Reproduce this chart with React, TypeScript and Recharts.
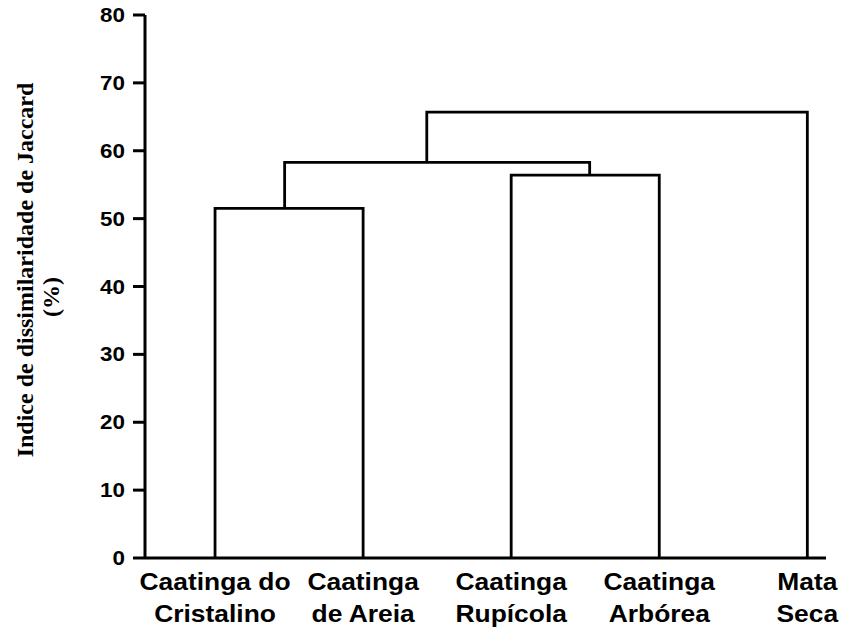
import { Line, LineChart, XAxis, YAxis } from "recharts";

// leaves of the dendrogram, left to right
const leafLine1 = ["Caatinga do", "Caatinga", "Caatinga", "Caatinga", "Mata"];
const leafLine2 = ["Cristalino", "de Areia", "Rupícola", "Arbórea", "Seca"];
const leafPos = [0, 1, 2, 3, 4];

// each merge: x of left branch, x of right branch, heights the branches start from, join height
const mergeLeftX = [0, 2, 0.47, 1.43];
const mergeRightX = [1, 3, 2.53, 4];
const mergeLeftFrom = [0, 0, 51.5, 58.3];
const mergeRightFrom = [0, 0, 56.4, 0];
const mergeHeight = [51.5, 56.4, 58.3, 65.7];

const yTicks = [0, 10, 20, 30, 40, 50, 60, 70, 80];

const links = mergeHeight.map((h, i) => [
  { x: mergeLeftX[i], y: mergeLeftFrom[i] },
  { x: mergeLeftX[i], y: h },
  { x: mergeRightX[i], y: h },
  { x: mergeRightX[i], y: mergeRightFrom[i] },
]);

const sans = "'Liberation Sans', Arial, sans-serif";
const serif = "'Liberation Serif', 'Times New Roman', serif";

// the scanned labels are a bit wider than plain Arial bold
function LeafTick(props: any) {
  const { x, y, payload } = props;
  const i = leafPos.indexOf(payload.value);
  return (
    <g transform={`translate(${x},${y}) scale(1.1,1)`}>
      <text x={0} y={32} textAnchor="middle" fontFamily={sans} fontWeight="bold" fontSize={24} fill="#000">
        {leafLine1[i]}
      </text>
      <text x={0} y={64} textAnchor="middle" fontFamily={sans} fontWeight="bold" fontSize={24} fill="#000">
        {leafLine2[i]}
      </text>
    </g>
  );
}

function ValueTick(props: any) {
  const { x, y, payload } = props;
  return (
    <g transform={`translate(${x},${y}) scale(1.12,1)`}>
      <text x={0} y={0} dy="0.355em" textAnchor="end" fontFamily={sans} fontWeight="bold" fontSize={20} fill="#000">
        {payload.value}
      </text>
    </g>
  );
}

function YTitle() {
  return (
    <g>
      <text
        transform="translate(33, 270) rotate(-90)"
        textAnchor="middle"
        fontFamily={serif}
        fontWeight="bold"
        fontSize={24}
        fill="#000"
      >
        Indice de dissimilaridade de Jaccard
      </text>
      <text
        transform="translate(59, 297) rotate(-90)"
        textAnchor="middle"
        fontFamily={serif}
        fontWeight="bold"
        fontSize={24}
        fill="#000"
      >
        (%)
      </text>
    </g>
  );
}

export default function App() {
  return (
    <div style={{ width: 843, height: 634, background: "#fff" }}>
      <style>{"body{margin:0}"}</style>
      <LineChart width={843} height={634} margin={{ top: 15, right: 17, left: 0, bottom: 0 }}>
        <XAxis
          type="number"
          dataKey="x"
          domain={[-0.473, 4.126]}
          ticks={leafPos}
          interval={0}
          allowDataOverflow
          height={76}
          tickLine={false}
          tickSize={0}
          tickMargin={0}
          axisLine={{ stroke: "#000", strokeWidth: 3 }}
          tick={<LeafTick />}
        />
        <YAxis
          type="number"
          dataKey="y"
          domain={[0, 80]}
          ticks={yTicks}
          width={145}
          tickSize={12}
          tickMargin={8}
          axisLine={{ stroke: "#000", strokeWidth: 3 }}
          tickLine={{ stroke: "#000", strokeWidth: 3 }}
          tick={<ValueTick />}
          label={{ content: () => <YTitle /> }}
        />
        {links.map((pts, i) => (
          <Line
            key={i}
            data={pts}
            dataKey="y"
            type="linear"
            stroke="#000"
            strokeWidth={2.8}
            dot={false}
            activeDot={false}
            isAnimationActive={false}
          />
        ))}
      </LineChart>
    </div>
  );
}
